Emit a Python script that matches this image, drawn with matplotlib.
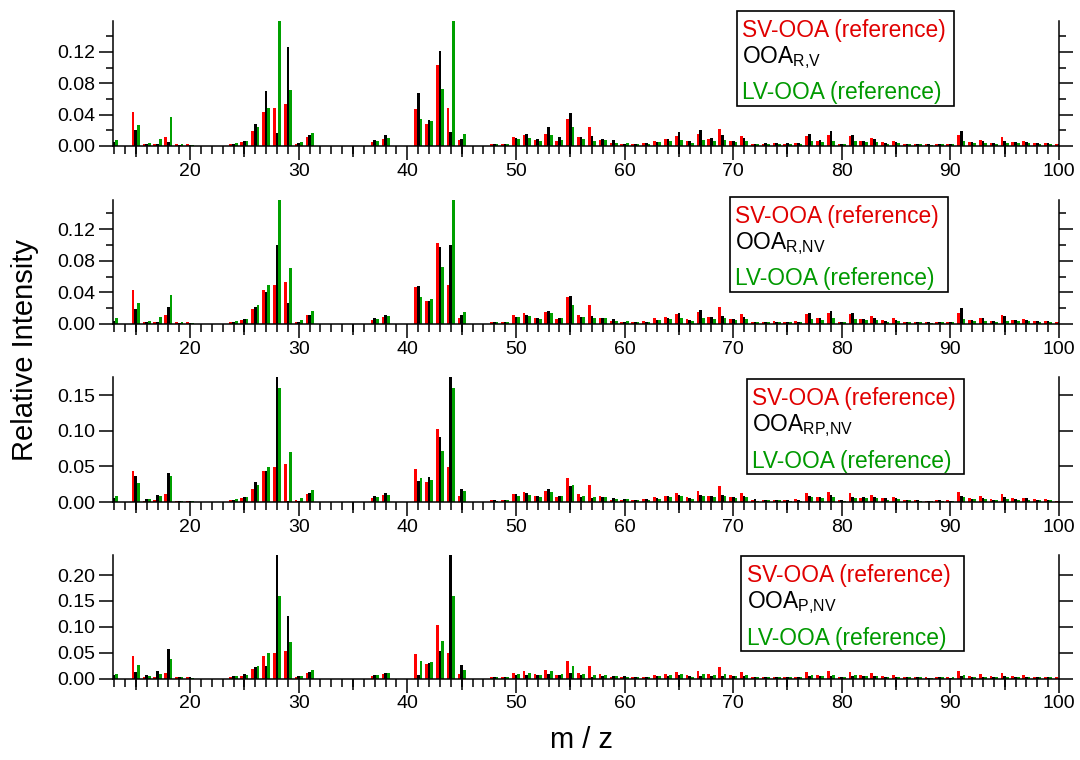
import numpy as np
import matplotlib
matplotlib.use("Agg")
import matplotlib.pyplot as plt
from matplotlib.patches import Rectangle
from matplotlib.ticker import MultipleLocator, FormatStrFormatter, NullLocator

plt.rcParams['font.family'] = ['Liberation Sans', 'DejaVu Sans']
plt.rcParams['mathtext.fontset'] = 'custom'
plt.rcParams['mathtext.rm'] = 'Liberation Sans'
plt.rcParams['mathtext.it'] = 'Liberation Sans:italic'

# m/z 13 .. 100
mz = np.arange(13, 101)

sv_ooa = [0.005, 0, 0.043, 0.002, 0.003, 0.0115, 0.002, 0.002, 0, 0,
          0, 0.0025, 0.005, 0.019, 0.0435, 0.049, 0.053, 0.003, 0.0115, 0,
          0, 0, 0, 0, 0.005, 0.0094, 0, 0, 0.047, 0.0285,
          0.103, 0.049, 0.008, 0, 0, 0.003, 0.003, 0.011, 0.0136, 0.008,
          0.0158, 0.0068, 0.034, 0.011, 0.024, 0.008, 0.0034, 0.0026, 0.0026, 0.0038,
          0.007, 0.009, 0.013, 0.0064, 0.015, 0.0085, 0.022, 0.0064, 0.0128, 0.003,
          0.0026, 0.0034, 0.0026, 0.0038, 0.013, 0.007, 0.014, 0.003, 0.013, 0.006,
          0.0098, 0.0055, 0.007, 0.003, 0.003, 0.002, 0.003, 0.0026, 0.014, 0.005,
          0.008, 0.004, 0.0115, 0.005, 0.006, 0.0038, 0.0038, 0.002]

lv_ooa = [0.008, 0, 0.027, 0.004, 0.009, 0.037, 0.002, 0.0015, 0, 0,
          0, 0.004, 0.0065, 0.024, 0.049, 0.16, 0.071, 0.005, 0.0166, 0,
          0, 0, 0, 0, 0.0065, 0.010, 0, 0, 0.034, 0.0315,
          0.0725, 0.16, 0.0158, 0, 0, 0.002, 0.0025, 0.0085, 0.0098, 0.0068,
          0.0145, 0.008, 0.024, 0.0085, 0.007, 0.0077, 0.004, 0.0038, 0.0026, 0.0026,
          0.0047, 0.0064, 0.008, 0.0038, 0.008, 0.0064, 0.008, 0.005, 0.0064, 0.002,
          0.0026, 0.0026, 0.002, 0.002, 0.0064, 0.005, 0.007, 0.002, 0.006, 0.005,
          0.005, 0.003, 0.0038, 0.0026, 0.002, 0.0017, 0.002, 0.002, 0.0064, 0.0038,
          0.0038, 0.003, 0.0038, 0.0034, 0.0034, 0.003, 0.0026, 0.0015]

ooa_r_v = [0.005, 0, 0.021, 0.002, 0.002, 0.005, 0.001, 0.001, 0, 0,
           0, 0.0025, 0.007, 0.0285, 0.070, 0.017, 0.126, 0.004, 0.0136, 0,
           0, 0, 0, 0, 0.008, 0.0136, 0, 0, 0.068, 0.033,
           0.121, 0.018, 0.0094, 0, 0, 0.002, 0.0025, 0.0106, 0.0158, 0.0085,
           0.024, 0.011, 0.0426, 0.011, 0.013, 0.0094, 0.008, 0.003, 0.0026, 0.0034,
           0.0055, 0.0094, 0.0175, 0.006, 0.021, 0.0098, 0.014, 0.0064, 0.0098, 0.003,
           0.0038, 0.0034, 0.0034, 0.0034, 0.0153, 0.008, 0.0196, 0.003, 0.0145, 0.0064,
           0.009, 0.0038, 0.0055, 0.003, 0.003, 0.002, 0.003, 0.002, 0.0187, 0.0055,
           0.007, 0.0038, 0.007, 0.005, 0.005, 0.0038, 0.0038, 0.002]

ooa_r_nv = [0.004, 0, 0.019, 0.002, 0.002, 0.022, 0.001, 0.001, 0, 0,
            0, 0.003, 0.006, 0.022, 0.041, 0.100, 0.026, 0.003, 0.012, 0,
            0, 0, 0, 0, 0.007, 0.011, 0, 0, 0.048, 0.029,
            0.098, 0.100, 0.012, 0, 0, 0.002, 0.0025, 0.009, 0.012, 0.007,
            0.017, 0.008, 0.035, 0.009, 0.010, 0.008, 0.006, 0.003, 0.0026, 0.003,
            0.005, 0.008, 0.014, 0.0055, 0.0176, 0.009, 0.010, 0.0063, 0.0084, 0.0025,
            0.003, 0.003, 0.003, 0.003, 0.014, 0.007, 0.017, 0.003, 0.014, 0.006,
            0.008, 0.0035, 0.005, 0.003, 0.003, 0.002, 0.003, 0.002, 0.020, 0.005,
            0.007, 0.0035, 0.0105, 0.0045, 0.005, 0.0035, 0.0035, 0.002]

ooa_rp_nv = [0.0056, 0, 0.037, 0.0047, 0.010, 0.041, 0.002, 0.002, 0, 0,
             0, 0.003, 0.0075, 0.028, 0.044, 0.178, 0.002, 0.001, 0.013, 0,
             0, 0, 0, 0, 0.0085, 0.0127, 0, 0, 0.029, 0.035,
             0.092, 0.178, 0.018, 0, 0, 0.0028, 0.003, 0.011, 0.0127, 0.009,
             0.019, 0.009, 0.022, 0.0066, 0.0056, 0.0075, 0.006, 0.0038, 0.003, 0.0038,
             0.005, 0.008, 0.010, 0.006, 0.0094, 0.008, 0.010, 0.007, 0.009, 0.004,
             0.003, 0.003, 0.003, 0.003, 0.008, 0.007, 0.0099, 0.003, 0.007, 0.007,
             0.007, 0.005, 0.005, 0.003, 0.003, 0.002, 0.003, 0.002, 0.008, 0.004,
             0.005, 0.003, 0.007, 0.004, 0.005, 0.003, 0.003, 0.002]

ooa_p_nv = [0.007, 0, 0.012, 0.0065, 0.0136, 0.057, 0.002, 0.002, 0, 0,
            0, 0.004, 0.008, 0.023, 0.024, 0.245, 0.12, 0.004, 0.0117, 0,
            0, 0, 0, 0, 0.0065, 0.0104, 0, 0, 0.007, 0.030,
            0.054, 0.245, 0.026, 0, 0, 0.0026, 0.003, 0.0065, 0.007, 0.006,
            0.009, 0.007, 0.0104, 0.006, 0.0026, 0.005, 0.004, 0.004, 0.003, 0.003,
            0.004, 0.005, 0.007, 0.004, 0.005, 0.004, 0.005, 0.004, 0.005, 0.003,
            0.002, 0.002, 0.002, 0.002, 0.004, 0.004, 0.005, 0.002, 0.004, 0.004,
            0.004, 0.003, 0.003, 0.002, 0.002, 0.0015, 0.002, 0.0015, 0.004, 0.003,
            0.003, 0.002, 0.004, 0.003, 0.003, 0.002, 0.002, 0.0015]

black_series = [ooa_r_v, ooa_r_nv, ooa_rp_nv, ooa_p_nv]
black_names = [r'OOA$_{\mathregular{R{,}V}}$', r'OOA$_{\mathregular{R{,}NV}}$',
               r'OOA$_{\mathregular{RP{,}NV}}$', r'OOA$_{\mathregular{P{,}NV}}$']

RED = '#ff0000'
GREEN = '#00a000'
RED_TXT = '#e00000'
GREEN_TXT = '#009900'

W, H = 1080, 760
fig = plt.figure(figsize=(W / 100, H / 100), dpi=100)

# panel geometry in pixels: (top, zero-line)
panels = [(21, 146), (200, 324), (377, 502), (555, 678.5)]
ytops = [0.1595, 0.157, 0.176, 0.239]
ymajor = [0.04, 0.04, 0.05, 0.05]
yminor = [0.02, 0.02, None, None]
# legend boxes: left, top, right, text-left
boxes = [(737, 11, 954, 742), (730, 197, 948, 735),
         (747, 379, 964, 752), (741, 556, 964, 747)]

left, right = 113, 1059
bw = 0.25

for i in range(4):
    top, bot = panels[i]
    ax = fig.add_axes([left / W, 1 - bot / H, (right - left) / W, (bot - top) / H])

    ax.bar(mz - bw, sv_ooa, width=bw, color=RED, linewidth=0)
    ax.bar(mz, black_series[i], width=bw, color='black', linewidth=0)
    ax.bar(mz + bw, lv_ooa, width=bw, color=GREEN, linewidth=0)

    ax.set_xlim(12.9, 100)
    ax.set_ylim(0, ytops[i])

    ax.spines['top'].set_visible(False)
    for s in ['left', 'right', 'bottom']:
        ax.spines[s].set_linewidth(1.1)

    ax.xaxis.set_major_locator(MultipleLocator(10))
    ax.xaxis.set_minor_locator(MultipleLocator(1))
    ax.tick_params(axis='x', which='major', length=10, width=1.1, direction='out',
                   labelsize=14, pad=2)
    ax.tick_params(axis='x', which='minor', length=5.8, width=1.1, direction='out')

    # medium ticks every 5
    sec = ax.secondary_xaxis('bottom')
    sec.set_xticks(np.arange(15, 100, 10))
    sec.tick_params(length=8, width=1.1, labelbottom=False)
    sec.spines['bottom'].set_visible(False)

    ax.yaxis.set_major_locator(MultipleLocator(ymajor[i]))
    if yminor[i]:
        ax.yaxis.set_minor_locator(MultipleLocator(yminor[i]))
    else:
        ax.yaxis.set_minor_locator(NullLocator())
    ax.yaxis.set_major_formatter(FormatStrFormatter('%.2f'))
    ax.tick_params(axis='y', which='both', left=True, right=True, labelright=False,
                   direction='out', width=1.1, labelsize=14, pad=3)
    ax.tick_params(axis='y', which='major', length=10)
    ax.tick_params(axis='y', which='minor', length=5)

    # legend box
    bl, bt, br, tx = boxes[i]
    fig.add_artist(Rectangle((bl / W, 1 - (bt + 95) / H), (br - bl) / W, 95 / H,
                             transform=fig.transFigure, fill=False,
                             edgecolor='black', linewidth=1.2, zorder=5))
    fs = 16.4
    fig.text(tx / W, 1 - (bt + 26) / H, 'SV-OOA (reference)', color=RED_TXT,
             fontsize=fs, va='baseline', ha='left')
    fig.text(tx / W, 1 - (bt + 52.5) / H, black_names[i], color='black',
             fontsize=fs, va='baseline', ha='left')
    fig.text(tx / W, 1 - (bt + 88.5) / H, 'LV-OOA (reference)', color=GREEN_TXT,
             fontsize=fs, va='baseline', ha='left')

fig.text(25 / W, 1 - 350 / H, 'Relative Intensity', rotation=90,
         fontsize=21, va='center', ha='center')
fig.text(582 / W, 1 - 740 / H, 'm / z', fontsize=21, va='center', ha='center')

fig.savefig('out.png', dpi=100)
